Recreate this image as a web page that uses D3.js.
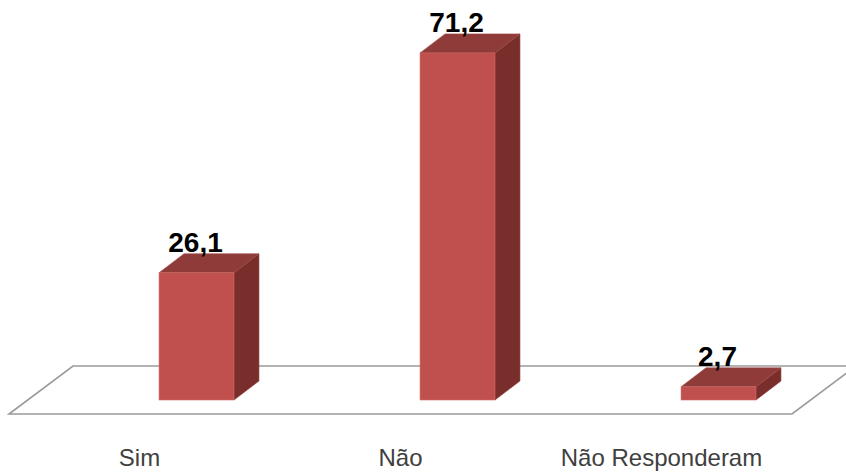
<!doctype html>
<html>
<head>
  <meta charset="utf-8"/>
  <title>Sim / Não / Não Responderam</title>
  <script src="https://d3js.org/d3.v7.min.js"></script>
  <style>
    body { margin:0; background:#fff; }
  </style>
</head>
<body>
<script>
// chart data
const categories = ['Sim', 'Não', 'Não Responderam'];
const values     = [26.1, 71.2, 2.7];
const valueLabels = ['26,1', '71,2', '2,7'];

const W = 846, H = 473;
const depthX = 25, depthY = -19;   // 3d offset of the bars

let svg = d3.select('body').append('svg').attr('width', W).attr('height', H);

var x = d3.scaleBand().domain(categories).range([66, 849])
          .paddingInner(0.713).paddingOuter(0.3565);
var y = d3.scaleLinear().domain([0, 80]).range([400, 10]);

// floor of the 3d plot
const floorBack = 366, floorFront = 414;
const floorPts = [[73, floorBack], [856, floorBack], [792, floorFront], [9, floorFront]];
svg.append('polygon')
   .attr('points', floorPts.map(p => p.join(',')).join(' '))
   .style('fill', '#fff')
   .style('stroke', '#9a9a9a')
   .style('stroke-width', 1.6);

// bars: side, top, front
let bars = svg.selectAll('.bar')
   .data(categories.map((c, i) => ({ c: c, v: values[i], label: valueLabels[i] })))
   .enter().append('g')
    .attr('class', 'bar');

bars.append('polygon') // side
   .attr('points', d => {
       let x1 = x(d.c) + x.bandwidth(), yt = y(d.v), yb = y(0);
       return [[x1, yt], [x1 + depthX, yt + depthY], [x1 + depthX, yb + depthY], [x1, yb]].map(p => p.join(',')).join(' ');
   })
   .style('fill', '#7a2e2c')
   .style('stroke', '#8a3a38').style('stroke-width', 0.6);

bars.append('polygon') // top
   .attr('points', d => {
       let x0 = x(d.c), x1 = x0 + x.bandwidth(), yt = y(d.v);
       return [[x0, yt], [x0 + depthX, yt + depthY], [x1 + depthX, yt + depthY], [x1, yt]].map(p => p.join(',')).join(' ');
   })
   .style('fill', '#8f3b39')
   .style('stroke', '#a04a48').style('stroke-width', 0.6);

bars.append('rect') // front
   .attr('x', d => x(d.c))
   .attr('y', d => y(d.v))
   .attr('width', x.bandwidth())
   .attr('height', d => y(0) - y(d.v))
   .style('fill', '#c0504d')
   .style('stroke', '#cf6a67').style('stroke-width', 0.6);

// value labels
bars.append('text')
   .attr('x', d => x(d.c) + x.bandwidth() / 2 - 1)
   .attr('y', d => y(d.v) + depthY - 1.5)
   .attr('text-anchor', 'middle')
   .style('font-family', '"Liberation Sans", Arial, sans-serif')
   .style('font-weight', 'bold')
   .style('font-size', '28px')
   .style('fill', '#000')
   .text(d => d.label);

// category labels along the front of the floor
svg.selectAll('.cat')
   .data(categories)
   .enter().append('text')
    .attr('class', 'cat')
    .attr('x', d => x(d) + x.bandwidth() / 2 - 57)
    .attr('y', 466)
    .attr('text-anchor', 'middle')
    .style('font-family', '"Liberation Sans", Arial, sans-serif')
    .style('font-size', '24px')
    .style('fill', '#404040')
    .text(d => d);
</script>
</body>
</html>
